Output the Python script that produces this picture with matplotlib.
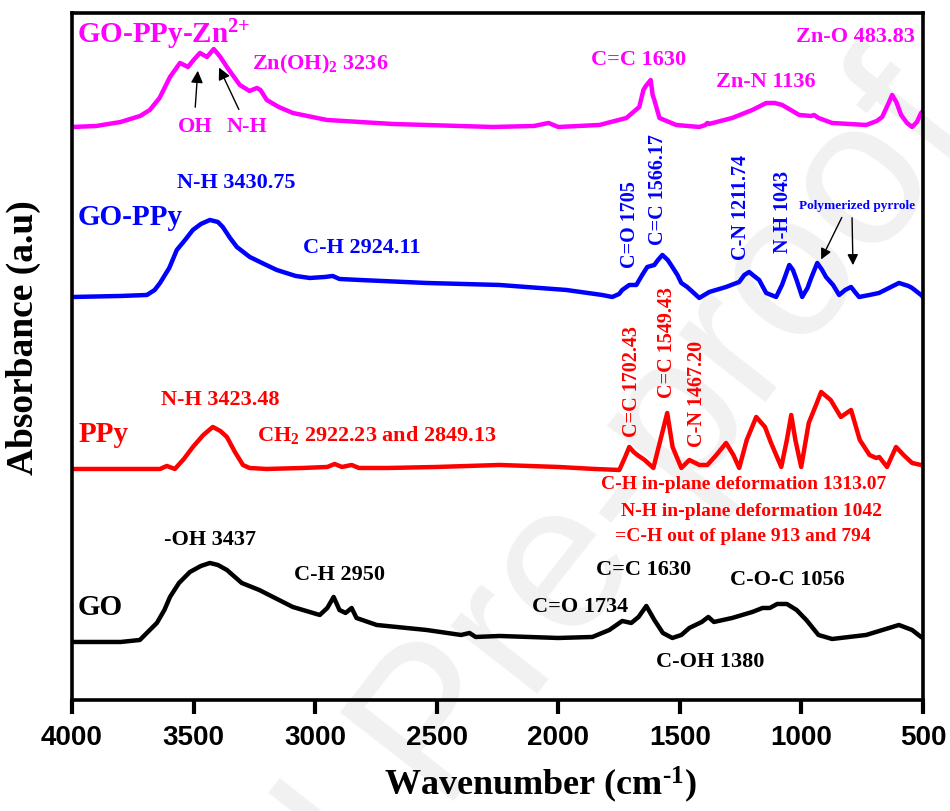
import matplotlib
matplotlib.use('Agg')
import matplotlib.pyplot as plt

plt.rcParams['font.family'] = 'Liberation Serif'
plt.rcParams['font.weight'] = 'bold'
plt.rcParams['axes.labelweight'] = 'bold'
plt.rcParams['mathtext.fontset'] = 'custom'
plt.rcParams['mathtext.rm'] = 'Liberation Serif:bold'
plt.rcParams['mathtext.bf'] = 'Liberation Serif:bold'
plt.rcParams['mathtext.it'] = 'Liberation Serif:bold'

# spectra (wavenumber, absorbance in arbitrary stacked units)
zn_wn = [3996, 3900, 3800, 3720, 3680, 3640, 3597, 3556, 3523, 3500, 3474, 3445, 3417,
         3390, 3363, 3310, 3270, 3240, 3225, 3199, 3150, 3092, 2952, 2681, 2270, 2100,
         2040, 2020, 2000, 1831, 1720, 1667, 1650, 1640, 1630, 1620, 1612, 1605, 1584,
         1515, 1420, 1395, 1387, 1380, 1285, 1202, 1145, 1110, 1079, 1009, 960, 948, 930,
         874, 734, 690, 668, 645, 627, 610, 590, 566, 545, 525, 508, 500]
zn_abs = [5.73, 5.74, 5.78, 5.84, 5.90, 6.02, 6.23, 6.37, 6.33, 6.40, 6.47, 6.43, 6.51,
          6.43, 6.33, 6.15, 6.09, 6.12, 6.10, 6.00, 5.93, 5.87, 5.80, 5.76, 5.73, 5.74,
          5.77, 5.75, 5.73, 5.75, 5.82, 5.93, 6.10, 6.14, 6.17, 6.20, 6.05, 6.00, 5.82,
          5.75, 5.73, 5.75, 5.77, 5.76, 5.82, 5.90, 5.97, 5.97, 5.95, 5.85, 5.84, 5.85, 5.82,
          5.77, 5.75, 5.79, 5.83, 5.95, 6.05, 5.98, 5.85, 5.77, 5.73, 5.78, 5.87, 5.89]

goppy_wn = [3996, 3800, 3692, 3660, 3638, 3600, 3569, 3535, 3503, 3470, 3433, 3400, 3380,
            3350, 3322, 3269, 3210, 3158, 3080, 3022, 2960, 2928, 2900, 2817, 2542, 2242,
            1967, 1820, 1778, 1750, 1737, 1708, 1679, 1655, 1634, 1605, 1590, 1572, 1550,
            1531, 1510, 1494, 1470, 1420, 1379, 1310, 1256, 1235, 1215, 1195, 1174, 1145,
            1104, 1080, 1050, 1035, 1020, 997, 975, 960, 935, 915, 899, 870, 845, 820, 796,
            780, 763, 720, 681, 640, 599, 560, 545, 508, 500]
goppy_abs = [4.03, 4.04, 4.05, 4.10, 4.17, 4.32, 4.50, 4.60, 4.70, 4.76, 4.80, 4.78, 4.73,
             4.62, 4.53, 4.43, 4.36, 4.30, 4.24, 4.22, 4.23, 4.24, 4.21, 4.20, 4.17, 4.15,
             4.10, 4.05, 4.03, 4.06, 4.10, 4.15, 4.15, 4.25, 4.33, 4.35, 4.40, 4.45, 4.40,
             4.33, 4.25, 4.17, 4.13, 4.02, 4.08, 4.13, 4.18, 4.25, 4.28, 4.24, 4.20, 4.07,
             4.03, 4.15, 4.35, 4.30, 4.20, 4.03, 4.12, 4.22, 4.37, 4.30, 4.23, 4.15, 4.05, 4.10,
             4.13, 4.08, 4.03, 4.05, 4.07, 4.12, 4.17, 4.14, 4.12, 4.05, 4.03]

ppy_wn = [3996, 3800, 3638, 3610, 3577, 3540, 3503, 3460, 3421, 3390, 3363, 3330, 3297,
          3270, 3200, 3050, 2950, 2920, 2890, 2850, 2820, 2700, 2500, 2242, 2000, 1850,
          1749, 1725, 1708, 1690, 1675, 1645, 1609, 1580, 1552, 1530, 1494, 1461, 1420,
          1387, 1350, 1310, 1280, 1256, 1225, 1186, 1150, 1125, 1083, 1060, 1042, 1025,
          1001, 970, 940, 919, 880, 838, 796, 760, 720, 693, 680, 648, 611, 580, 545, 508, 500]
ppy_abs = [2.31, 2.31, 2.31, 2.34, 2.31, 2.41, 2.53, 2.65, 2.73, 2.69, 2.63, 2.48, 2.35,
           2.32, 2.31, 2.32, 2.33, 2.36, 2.33, 2.35, 2.32, 2.32, 2.33, 2.35, 2.33, 2.31,
           2.30, 2.43, 2.53, 2.48, 2.45, 2.40, 2.32, 2.60, 2.87, 2.53, 2.32, 2.40, 2.35,
           2.35, 2.45, 2.57, 2.45, 2.32, 2.60, 2.83, 2.73, 2.57, 2.33, 2.60, 2.85, 2.60,
           2.33, 2.77, 2.95, 3.08, 3.00, 2.83, 2.90, 2.60, 2.45, 2.42, 2.43, 2.33, 2.53, 2.45,
           2.37, 2.35, 2.34]

go_wn = [3996, 3800, 3721, 3680, 3651, 3620, 3597, 3560, 3515, 3470, 3433, 3400, 3363,
         3302, 3230, 3092, 2981, 2950, 2924, 2900, 2875, 2850, 2830, 2747, 2542, 2400,
         2365, 2340, 2242, 2000, 1860, 1790, 1737, 1700, 1670, 1638, 1605, 1570, 1531,
         1494, 1461, 1410, 1383, 1360, 1285, 1202, 1160, 1130, 1100, 1060, 1020, 980, 930,
         874, 734, 599, 545, 508, 500]
go_abs = [0.58, 0.58, 0.60, 0.70, 0.77, 0.90, 1.03, 1.17, 1.28, 1.34, 1.37, 1.35, 1.30,
          1.17, 1.10, 0.93, 0.85, 0.92, 1.03, 0.90, 0.87, 0.92, 0.82, 0.75, 0.70, 0.65,
          0.67, 0.63, 0.64, 0.62, 0.63, 0.70, 0.79, 0.77, 0.83, 0.94, 0.80, 0.67, 0.62,
          0.65, 0.72, 0.78, 0.83, 0.78, 0.82, 0.88, 0.92, 0.92, 0.96, 0.96, 0.90, 0.80, 0.65,
          0.61, 0.65, 0.75, 0.70, 0.63, 0.62]

xticks = [4000, 3500, 3000, 2500, 2000, 1500, 1000, 500]

magenta = '#ff00ff'
blue = '#0000ff'
red = '#ff0000'
black = '#000000'

fig = plt.figure(figsize=(9.5, 8.11), dpi=100)

# faint watermark behind everything
fig.text(1.03, 0.84, 'Journal Pre-proof', fontsize=150, color='#f1f1f1',
         family='Liberation Sans', weight='normal', rotation=52,
         rotation_mode='anchor', ha='right', va='baseline', zorder=0)

ax = fig.add_axes([0.0758, 0.1369, 0.8958, 0.8471])
ax.set_zorder(1)
ax.patch.set_alpha(0)

lw = 3.2
ax.plot(zn_wn, zn_abs, color=magenta, lw=lw, solid_joinstyle='round')
ax.plot(goppy_wn, goppy_abs, color=blue, lw=lw, solid_joinstyle='round')
ax.plot(ppy_wn, ppy_abs, color=red, lw=lw, solid_joinstyle='round')
ax.plot(go_wn, go_abs, color=black, lw=lw, solid_joinstyle='round')

ax.set_xlim(4000, 500)
ax.set_ylim(0, 6.87)
ax.set_xticks(xticks)
ax.set_xticklabels([str(t) for t in xticks], family='Liberation Sans',
                   fontsize=20, weight='bold')
ax.set_yticks([])
ax.tick_params(axis='x', direction='out', length=10, width=3, pad=8)
for s in ax.spines.values():
    s.set_linewidth(2.6)

ax.set_xlabel('Wavenumber (cm$^{\\text{-}1}$)', fontsize=26, weight='bold')
ax.xaxis.set_label_coords(0.55, -0.094)
ax.set_ylabel('Absorbance (a.u)', fontsize=27, weight='bold')
ax.yaxis.set_label_coords(-0.037, 0.527)

# GO-PPy-Zn2+
ax.text(3979, 6.65, 'GO-PPy-Zn$^{2{+}}$', color=magenta, fontsize=21, va='center')
ax.text(2980, 6.35, 'Zn(OH)$_2$ 3236', color=magenta, fontsize=16, ha='center', va='center')
ax.text(3494, 5.73, 'OH', color=magenta, fontsize=16, ha='center', va='center')
ax.text(3280, 5.73, 'N-H', color=magenta, fontsize=16, ha='center', va='center')
ax.annotate('', xy=(3482, 6.32), xytext=(3494, 5.90),
            arrowprops=dict(arrowstyle='-|>', color='black', lw=1, mutation_scale=18))
ax.annotate('', xy=(3400, 6.35), xytext=(3309, 5.88),
            arrowprops=dict(arrowstyle='-|>', color='black', lw=1, mutation_scale=18))
ax.text(1668, 6.40, 'C=C 1630', color=magenta, fontsize=16, ha='center', va='center')
ax.text(1146, 6.18, 'Zn-N 1136', color=magenta, fontsize=16, ha='center', va='center')
ax.text(780, 6.63, 'Zn-O 483.83', color=magenta, fontsize=16, ha='center', va='center')

# GO-PPy
ax.text(3975, 4.82, 'GO-PPy', color=blue, fontsize=21, va='center')
ax.text(3325, 5.17, 'N-H 3430.75', color=blue, fontsize=16, ha='center', va='center')
ax.text(2807, 4.52, 'C-H 2924.11', color=blue, fontsize=16, ha='center', va='center')
for x, y, s in [(1705, 4.32, 'C=O 1705'), (1590, 4.55, 'C=C 1566.17'),
                (1249, 4.40, 'C-N 1211.74'), (1076, 4.47, 'N-H 1043')]:
    ax.text(x, y, s, color=blue, fontsize=14.5, rotation=90, ha='center', va='bottom')
ax.text(772, 4.94, 'Polymerized pyrrole', color=blue, fontsize=9.5, ha='center', va='center')
ax.annotate('', xy=(924, 4.38), xytext=(829, 4.85),
            arrowprops=dict(arrowstyle='-|>', color='black', lw=1, mutation_scale=16))
ax.annotate('', xy=(788, 4.32), xytext=(792, 4.85),
            arrowprops=dict(arrowstyle='-|>', color='black', lw=1, mutation_scale=16))

# PPy
ax.text(3975, 2.65, 'PPy', color=red, fontsize=21, va='center')
ax.text(3391, 3.00, 'N-H 3423.48', color=red, fontsize=16, ha='center', va='center')
ax.text(3239, 2.65, 'CH$_2$ 2922.23 and 2849.13', color=red, fontsize=16, va='center')
for x, y, s in [(1697, 2.63, 'C=C 1702.43'), (1553, 3.02, 'C=C 1549.43'),
                (1430, 2.53, 'C-N 1467.20')]:
    ax.text(x, y, s, color=red, fontsize=14.5, rotation=90, ha='center', va='bottom')
ax.text(1236, 2.15, 'C-H in-plane deformation 1313.07', color=red, fontsize=14,
        ha='center', va='center')
ax.text(1207, 1.88, 'N-H in-plane deformation 1042', color=red, fontsize=14,
        ha='center', va='center')
ax.text(1240, 1.63, '=C-H out of plane 913 and 794', color=red, fontsize=14,
        ha='center', va='center')

# GO
ax.text(3975, 0.92, 'GO', color=black, fontsize=21, va='center')
ax.text(3432, 1.60, '-OH 3437', color=black, fontsize=16, ha='center', va='center')
ax.text(2898, 1.25, 'C-H 2950', color=black, fontsize=16, ha='center', va='center')
ax.text(1651, 1.30, 'C=C 1630', color=black, fontsize=16, ha='center', va='center')
ax.text(1059, 1.20, 'C-O-C 1056', color=black, fontsize=16, ha='center', va='center')
ax.text(1911, 0.93, 'C=O 1734', color=black, fontsize=16, ha='center', va='center')
ax.text(1376, 0.38, 'C-OH 1380', color=black, fontsize=16, ha='center', va='center')

fig.savefig('out.png', dpi=100)
